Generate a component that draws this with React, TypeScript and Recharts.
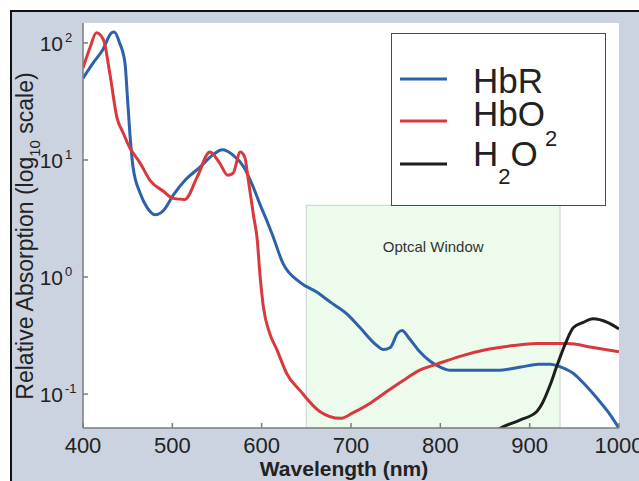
import {
  LineChart,
  Line,
  XAxis,
  YAxis,
  CartesianGrid,
  ReferenceArea,
  Legend,
} from "recharts";

// wavelengths (nm) and relative absorption
const hbrNm = [
  400, 411, 422, 432, 435, 441, 447, 450, 453, 456, 464, 472, 481, 490, 501,
  515, 531, 545, 556, 568, 580, 590, 598, 606, 612, 624, 643, 662, 677, 696,
  710, 729, 736, 744, 752, 757, 765, 777, 789, 800, 811, 840, 864, 890, 910,
  923, 935, 949, 962, 975, 988, 1000,
];
const hbrAbs = [
  50, 67, 87, 122, 124, 100, 67, 32, 15, 8.7, 5.2, 3.9, 3.4, 3.7, 5.0, 6.8,
  8.7, 11, 12.2, 11, 8.7, 6.0, 4.2, 3.0, 2.3, 1.3, 0.9, 0.74, 0.61, 0.48,
  0.37, 0.26, 0.24, 0.25, 0.33, 0.35, 0.3, 0.23, 0.19, 0.17, 0.16, 0.16, 0.16,
  0.17, 0.18, 0.18, 0.17, 0.15, 0.12, 0.093, 0.07, 0.051,
];

const hbo2Nm = [
  400, 408, 415, 423, 430, 438, 445, 452, 464, 475, 490, 501, 514, 528, 542,
  553, 562, 568, 576, 581, 585, 591, 595, 598, 602, 609, 617, 628, 643, 665,
  688, 702, 721, 740, 758, 777, 796, 822, 852, 882, 908, 942, 971, 1000,
];
const hbo2Abs = [
  61, 92, 122, 106, 55, 23, 17, 12.9, 9.4, 6.7, 5.4, 4.7, 4.6, 7.2, 11.7, 9.4,
  7.4, 7.7, 11.7, 10.6, 6.8, 3.3, 2.1, 1.07, 0.55, 0.33, 0.24, 0.15, 0.107,
  0.071, 0.062, 0.069, 0.083, 0.105, 0.13, 0.16, 0.18, 0.21, 0.24, 0.26, 0.27,
  0.27, 0.25, 0.23,
];

const h2oNm = [
  850, 867, 889, 908, 914, 923, 930, 940, 949, 960, 971, 987, 1000,
];
const h2oAbs = [
  0.042, 0.051, 0.06, 0.071, 0.083, 0.12, 0.17, 0.27, 0.37, 0.41, 0.44, 0.41,
  0.36,
];

const wavelengthTicks = [400, 500, 600, 700, 800, 900, 1000];
const absorptionTicks = [0.1, 1, 10, 100];
const absorptionDomain = [0.0513, 148];
const windowStart = 650;
const windowEnd = 934;
const windowTop = 4.1;

const toRows = (nm: number[], abs: number[]) =>
  nm.map((w, i) => ({ nm: w, v: abs[i] }));

const series = [
  { key: "HbR", color: "#2d61aa", data: toRows(hbrNm, hbrAbs) },
  { key: "HbO2", color: "#d7393d", data: toRows(hbo2Nm, hbo2Abs) },
  { key: "H2O", color: "#1e1e1e", data: toRows(h2oNm, h2oAbs) },
];

const FONT = "'Liberation Sans', Arial, Helvetica, sans-serif";
const AXIS = "#7d7d7d";
const INK = "#222";

function XTick({ x, y, payload }: any) {
  return (
    <text x={x} y={y + 16} textAnchor="middle" fontSize={22} fill={INK} fontFamily={FONT}>
      {payload.value}
    </text>
  );
}

function YTick({ x, y, payload }: any) {
  const exp = Math.round(Math.log10(payload.value));
  return (
    <g fontFamily={FONT} fill={INK}>
      <text x={x} y={y + 8} textAnchor="end" fontSize={21}>
        10
      </text>
      <text x={x + 2} y={y - 1} textAnchor="start" fontSize={13}>
        {exp}
      </text>
    </g>
  );
}

const NoTick = () => <g />;

function YTitle({ viewBox }: any) {
  const cx = viewBox.x + 23;
  const cy = 236;
  return (
    <text
      x={cx}
      y={cy}
      transform={`rotate(-90, ${cx}, ${cy})`}
      textAnchor="middle"
      fontSize={23}
      fill={INK}
      fontFamily={FONT}
    >
      Relative Absorption (log
      <tspan fontSize={15} dy={7}>
        10
      </tspan>
      <tspan dy={-7}> scale)</tspan>
    </text>
  );
}

function legendLabel(key: string) {
  if (key === "HbO2")
    return (
      <>
        HbO
        <tspan fontSize={22} dy={20}>
          2
        </tspan>
      </>
    );
  if (key === "H2O")
    return (
      <>
        H
        <tspan fontSize={22} dy={18}>
          2
        </tspan>
        <tspan dy={-18}>O</tspan>
      </>
    );
  return key;
}

function LegendBox() {
  const rowY = [45, 87, 130];
  const baseY = [59, 92, 132];
  return (
    <div
      style={{
        width: 215,
        height: 173,
        boxSizing: "border-box",
        border: "1.5px solid #4a4a4a",
        background: "#fff",
      }}
    >
      <svg width={212} height={170} style={{ display: "block" }}>
        {series.map((s, i) => (
          <g key={s.key}>
            <line x1={8} x2={55} y1={rowY[i]} y2={rowY[i]} stroke={s.color} strokeWidth={3} />
            <text x={81} y={baseY[i]} fontSize={35} fill={INK} fontFamily={FONT}>
              {legendLabel(s.key)}
            </text>
          </g>
        ))}
      </svg>
    </div>
  );
}

export default function App() {
  return (
    <div style={{ position: "absolute", left: 0, top: 0, width: 639, height: 481, background: "#fff", overflow: "hidden" }}>
      <div
        style={{
          position: "absolute",
          left: 10,
          top: 10,
          width: 629,
          height: 471,
          background: "#cad3df",
          borderLeft: "2px solid #111",
          borderTop: "2px solid #111",
        }}
      />
      <div style={{ position: "absolute", left: 0, top: 0 }}>
        <LineChart
          width={639}
          height={481}
          margin={{ top: 23, right: 20, bottom: 0, left: 10 }}
        >
          <CartesianGrid fill="#fff" horizontal={false} vertical={false} />
          <XAxis
            dataKey="nm"
            type="number"
            domain={[400, 1000]}
            ticks={wavelengthTicks}
            allowDataOverflow
            height={53}
            stroke={AXIS}
            strokeWidth={1.5}
            tickSize={-5}
            tickMargin={14}
            tick={<XTick />}
            label={{
              value: "Wavelength (nm)",
              position: "insideBottom",
              offset: 5,
              dx: -7,
              fontSize: 21,
              fontWeight: "bold",
              fill: INK,
              fontFamily: FONT,
            }}
          />
          <XAxis
            xAxisId="top"
            orientation="top"
            dataKey="nm"
            type="number"
            domain={[400, 1000]}
            ticks={wavelengthTicks}
            allowDataOverflow
            height={0}
            stroke={AXIS}
            strokeWidth={1.5}
            tickSize={-5}
            tick={NoTick}
          />
          <YAxis
            scale="log"
            type="number"
            domain={absorptionDomain}
            ticks={absorptionTicks}
            allowDataOverflow
            width={73}
            stroke={AXIS}
            strokeWidth={1.5}
            tickSize={-5}
            tickMargin={25}
            tick={<YTick />}
            label={<YTitle />}
          />
          <YAxis
            yAxisId="right"
            orientation="right"
            scale="log"
            type="number"
            domain={absorptionDomain}
            ticks={absorptionTicks}
            allowDataOverflow
            width={0}
            stroke={AXIS}
            strokeWidth={1.5}
            tickSize={-5}
            tick={NoTick}
          />
          <ReferenceArea
            x1={windowStart}
            x2={windowEnd}
            y1={absorptionDomain[0]}
            y2={windowTop}
            fill="#edfbec"
            fillOpacity={1}
            stroke="#c9d3c9"
            strokeWidth={1}
            label={{
              value: "Optcal Window",
              position: "insideTop",
              offset: 36,
              fontSize: 15,
              fill: "#333",
              fontFamily: FONT,
            }}
          />
          {series.map((s) => (
            <Line
              key={s.key}
              name={s.key}
              data={s.data}
              dataKey="v"
              type="monotone"
              stroke={s.color}
              strokeWidth={3}
              dot={false}
              activeDot={false}
              isAnimationActive={false}
            />
          ))}
          <Legend
            layout="horizontal"
            verticalAlign="middle"
            align="center"
            wrapperStyle={{ left: 391, top: 33, width: 215, height: 173 }}
            content={<LegendBox />}
          />
        </LineChart>
      </div>
    </div>
  );
}
